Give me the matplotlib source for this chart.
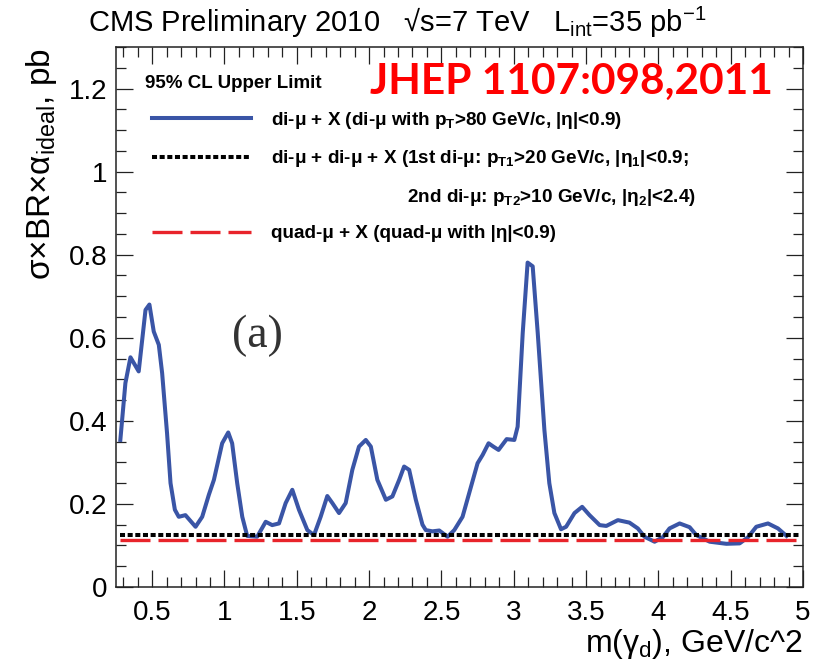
import matplotlib
matplotlib.use("Agg")
import matplotlib.pyplot as plt
from matplotlib.lines import Line2D
from matplotlib.ticker import MultipleLocator

plt.rcParams['font.family'] = ['Liberation Sans', 'DejaVu Sans']
plt.rcParams['mathtext.fontset'] = 'custom'
plt.rcParams['mathtext.rm'] = 'Liberation Sans'
plt.rcParams['mathtext.it'] = 'Liberation Sans:italic'
plt.rcParams['mathtext.bf'] = 'Liberation Sans:bold'

# ---- data ----
mass = [0.28, 0.315, 0.35, 0.407, 0.454, 0.481, 0.511, 0.546, 0.569, 0.603,
        0.627, 0.657, 0.684, 0.73, 0.80, 0.846, 0.892, 0.927, 0.984, 1.026,
        1.053, 1.088, 1.123, 1.157, 1.226, 1.285, 1.33, 1.377, 1.423, 1.469,
        1.515, 1.573, 1.619, 1.665, 1.711, 1.746, 1.792, 1.838, 1.884, 1.93,
        1.977, 2.012, 2.057, 2.116, 2.161, 2.208, 2.242, 2.277, 2.323, 2.346,
        2.369, 2.392, 2.438, 2.485, 2.542, 2.589, 2.646, 2.692, 2.75, 2.785,
        2.826, 2.859, 2.895, 2.951, 3.004, 3.027, 3.062, 3.096, 3.131, 3.166,
        3.212, 3.246, 3.281, 3.327, 3.362, 3.42, 3.473, 3.524, 3.594, 3.64,
        3.72, 3.80, 3.858, 3.904, 3.974, 4.031, 4.077, 4.147, 4.216, 4.262,
        4.355, 4.47, 4.562, 4.62, 4.677, 4.758, 4.827, 4.886]
dimu_limit = [0.354, 0.491, 0.553, 0.519, 0.667, 0.680, 0.615, 0.583, 0.515, 0.370,
              0.250, 0.186, 0.169, 0.173, 0.145, 0.169, 0.222, 0.258, 0.346, 0.372,
              0.346, 0.250, 0.169, 0.123, 0.121, 0.157, 0.149, 0.153, 0.202, 0.234,
              0.186, 0.137, 0.125, 0.169, 0.219, 0.202, 0.178, 0.202, 0.282, 0.338,
              0.354, 0.338, 0.258, 0.210, 0.218, 0.258, 0.290, 0.282, 0.210, 0.180,
              0.150, 0.137, 0.134, 0.136, 0.121, 0.137, 0.169, 0.226, 0.298, 0.318,
              0.346, 0.338, 0.330, 0.356, 0.354, 0.386, 0.611, 0.781, 0.772, 0.611,
              0.378, 0.250, 0.178, 0.139, 0.145, 0.178, 0.193, 0.173, 0.149, 0.147,
              0.161, 0.155, 0.141, 0.121, 0.109, 0.120, 0.141, 0.153, 0.144, 0.125,
              0.109, 0.104, 0.105, 0.120, 0.145, 0.153, 0.141, 0.123]

flat_mass = [0.28, 4.98]
dimu_dimu_limit = [0.124, 0.124]
quadmu_limit = [0.113, 0.113]

xticks = [0.5, 1, 1.5, 2, 2.5, 3, 3.5, 4, 4.5, 5]
xticklabels = ['0.5', '1', '1.5', '2', '2.5', '3', '3.5', '4', '4.5', '5']
yticks = [0, 0.2, 0.4, 0.6, 0.8, 1.0, 1.2]
yticklabels = ['0', '0.2', '0.4', '0.6', '0.8', '1', '1.2']

label_dimu = r'di-μ + X (di-μ with $\mathbf{p}_{\mathbf{T}}$>80 GeV/c, |η|<0.9)'
label_dd1 = r'di-μ + di-μ + X (1st di-μ: $\mathbf{p}_{\mathbf{T1}}$>20 GeV/c, |η$_{\mathbf{1}}$|<0.9;'
label_dd2 = r'2nd di-μ: $\mathbf{p}_{\mathbf{T2}}$>10 GeV/c, |η$_{\mathbf{2}}$|<2.4)'
label_quad = r'quad-μ + X (quad-μ with |η|<0.9)'

BLUE = '#3a55a6'
RED = '#e8242b'

W, H = 823, 664
fig = plt.figure(figsize=(W / 100, H / 100), dpi=100)
ax = fig.add_axes([116 / W, 1 - 587 / H, (803 - 116) / W, (587 - 47) / H])

ax.plot(mass, dimu_limit, color=BLUE, lw=2.9, solid_joinstyle='round', zorder=3)
ax.plot(flat_mass, dimu_dimu_limit, color='black', lw=2.9, dashes=(1.25, 0.65),
        dash_capstyle='butt', zorder=4)
ax.plot(flat_mass, quadmu_limit, color=RED, lw=2.4, dashes=(9.0, 2.4),
        dash_capstyle='butt', zorder=4)

ax.set_xlim(0.25, 5.0)
ax.set_ylim(0, 1.3)
ax.set_xticks(xticks)
ax.set_xticklabels(xticklabels)
ax.set_yticks(yticks)
ax.set_yticklabels(yticklabels)
ax.xaxis.set_minor_locator(MultipleLocator(0.1))
ax.yaxis.set_minor_locator(MultipleLocator(0.05))
ax.tick_params(which='both', direction='in', top=True, right=True, width=0.9, color='#222222')
ax.tick_params(which='major', length=12.5)
ax.tick_params(which='minor', length=7)
ax.tick_params(axis='x', which='major', labelsize=20, pad=9)
ax.tick_params(axis='y', which='major', labelsize=20, pad=6)
for s in ax.spines.values():
    s.set_linewidth(1.1)
    s.set_color('#222222')

# axis titles
fig.text(803 / W, 1 - 652 / H, r'm(γ$_{\mathrm{d}}$), GeV/c^2', ha='right', va='baseline', fontsize=23)
fig.text(42 / W, 1 - 48 / H, r'σ×BR×α$_{\mathrm{ideal}}$, pb', rotation=90, ha='center', va='top',
         fontsize=24)

# header
fig.text(88 / W, 1 - 32 / H, r'CMS Preliminary 2010   √s=7 TeV   L$_{\mathrm{int}}$=35 pb$^{\mathrm{-1}}$',
         ha='left', va='baseline', fontsize=21)

# annotations
fig.text(145 / W, 1 - 83 / H, '95% CL Upper Limit', fontsize=13.5, fontweight='bold',
         ha='left', va='center')
fig.text(370 / W, 1 - 94 / H, 'JHEP 1107:098,2011', family='Lato', fontweight='bold',
         color='#ff0000', fontsize=30.5, ha='left', va='baseline')
fig.text(232 / W, 1 - 336 / H, '(a)', family='Liberation Serif', fontsize=33, color='#333333',
         ha='left', va='center')

handles = [Line2D([], [], color=BLUE, lw=2.9),
           Line2D([], [], color='black', lw=2.9, dashes=(1.25, 0.65), dash_capstyle='butt'),
           Line2D([], [], color='none', lw=0),
           Line2D([], [], color=RED, lw=2.4, dashes=(9.0, 2.4), dash_capstyle='butt')]
labels = [label_dimu, label_dd1, ' ' * 26 + label_dd2, label_quad]
leg = ax.legend(handles, labels, loc='upper left',
                bbox_to_anchor=(152 / W, 1 - 110 / H), bbox_transform=fig.transFigure,
                frameon=False, borderpad=0, borderaxespad=0, handlelength=5.24,
                handletextpad=1.06, labelspacing=0.92,
                prop={'weight': 'bold', 'size': 13.6})

fig.savefig('out.png', dpi=100)
